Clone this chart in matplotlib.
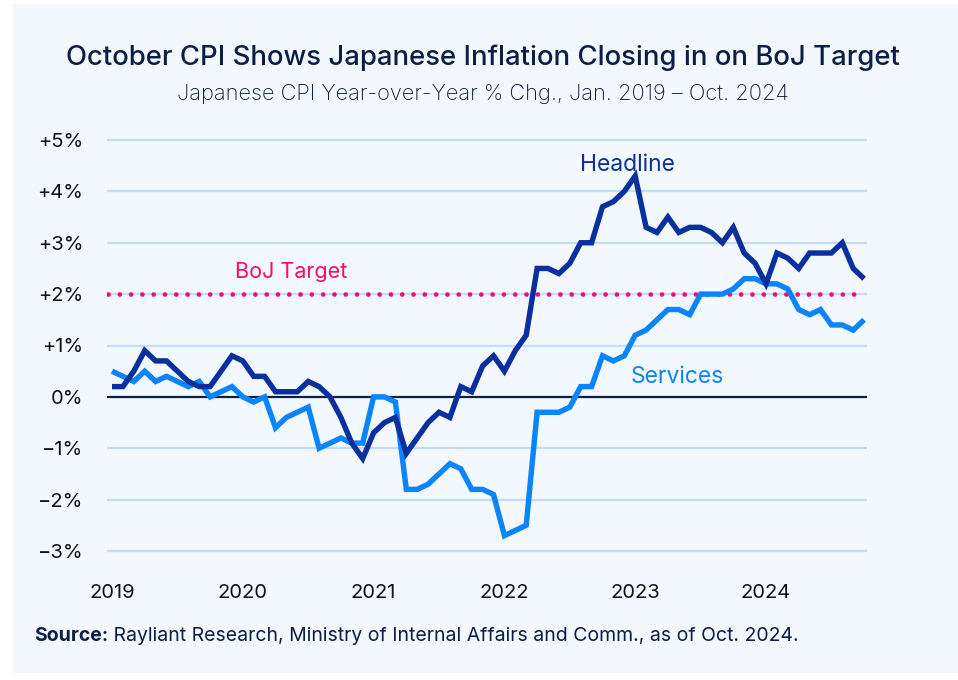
import matplotlib
matplotlib.use("Agg")
import matplotlib.pyplot as plt
from matplotlib.patches import Rectangle

# ---- data ----
years = [2019, 2020, 2021, 2022, 2023, 2024]
headline = [0.2, 0.2, 0.5, 0.9, 0.7, 0.7, 0.5, 0.3, 0.2, 0.2, 0.5, 0.8,
            0.7, 0.4, 0.4, 0.1, 0.1, 0.1, 0.3, 0.2, 0.0, -0.4, -0.9, -1.2,
            -0.7, -0.5, -0.4, -1.1, -0.8, -0.5, -0.3, -0.4, 0.2, 0.1, 0.6, 0.8,
            0.5, 0.9, 1.2, 2.5, 2.5, 2.4, 2.6, 3.0, 3.0, 3.7, 3.8, 4.0,
            4.3, 3.3, 3.2, 3.5, 3.2, 3.3, 3.3, 3.2, 3.0, 3.3, 2.8, 2.6,
            2.2, 2.8, 2.7, 2.5, 2.8, 2.8, 2.8, 3.0, 2.5, 2.3]
services = [0.5, 0.4, 0.3, 0.5, 0.3, 0.4, 0.3, 0.2, 0.3, 0.0, 0.1, 0.2,
            0.0, -0.1, 0.0, -0.6, -0.4, -0.3, -0.2, -1.0, -0.9, -0.8, -0.9, -0.9,
            0.0, 0.0, -0.1, -1.8, -1.8, -1.7, -1.5, -1.3, -1.4, -1.8, -1.8, -1.9,
            -2.7, -2.6, -2.5, -0.3, -0.3, -0.3, -0.2, 0.2, 0.2, 0.8, 0.7, 0.8,
            1.2, 1.3, 1.5, 1.7, 1.7, 1.6, 2.0, 2.0, 2.0, 2.1, 2.3, 2.3,
            2.2, 2.2, 2.1, 1.7, 1.6, 1.7, 1.4, 1.4, 1.3, 1.5]
boj_target = 2.0
y_ticks = [-3, -2, -1, 0, 1, 2, 3, 4, 5]
y_labels = ["\u22123%", "\u22122%", "\u22121%", "0%", "+1%", "+2%", "+3%", "+4%", "+5%"]

title = "October CPI Shows Japanese Inflation Closing in on BoJ Target"
subtitle = "Japanese CPI Year-over-Year % Chg., Jan. 2019 \u2013 Oct. 2024"
source_bold = "Source:"
source_rest = " Rayliant Research, Ministry of Internal Affairs and Comm., as of Oct. 2024."

# ---- style ----
BG = "#F3F8FE"
NAVY = "#0B1F45"
HEAD = "#0A30A0"
SERV = "#0A84FF"
PINK = "#FF0A6C"
GRID = "#C3DCFA"
FONT = ["Inter", "DejaVu Sans"]
plt.rcParams['font.family'] = FONT

W, H = 958, 680
fig = plt.figure(figsize=(W / 100, H / 100), dpi=100)
fig.patch.set_facecolor("white")
fig.add_artist(Rectangle((13 / W, 1 - 673 / H), (W - 13) / W, (673 - 4) / H,
                         transform=fig.transFigure, facecolor=BG,
                         edgecolor="none", zorder=0))

# axes placement (pixel-based)
ylo, yhi = -3.3, 5.3
px_per = 51.4
top_px = 140 - (yhi - 5) * px_per
bot_px = 551 + (-3 - ylo) * px_per
left_px, right_px = 107, 867
ax = fig.add_axes([left_px / W, 1 - bot_px / H, (right_px - left_px) / W,
                   (bot_px - top_px) / H])
ax.set_facecolor("none")
for s in ax.spines.values():
    s.set_visible(False)

n = len(headline)
x = list(range(n))
# month positions: Jan 2019 at px 112, 10.9 px per month
mpx = 10.9
x0 = -(112 - left_px) / mpx
x1 = x0 + (right_px - left_px) / mpx
ax.set_xlim(x0, x1)
ax.set_ylim(ylo, yhi)

for t in y_ticks:
    if t != 0:
        ax.axhline(t, color=GRID, lw=1.6, zorder=1)
ax.axhline(0, color=NAVY, lw=1.6, zorder=2)

ax.plot(x, services, color=SERV, lw=3.9, solid_joinstyle="miter",
        solid_capstyle="butt", zorder=4)
ax.plot(x, headline, color=HEAD, lw=3.9, solid_joinstyle="miter",
        solid_capstyle="butt", zorder=5)

# BoJ target dotted line
lw_dot = 3.4
ax.plot([x0 + 0.05, x1 - 1.2], [boj_target, boj_target], color=PINK, lw=lw_dot,
        linestyle=(0, (0.01, 8.1 / lw_dot)), dash_capstyle="round", zorder=3)

ax.set_yticks(y_ticks)
ax.set_yticklabels(y_labels)
ax.set_xticks([12 * i for i in range(len(years))])
ax.set_xticklabels([str(y) for y in years])
ax.tick_params(axis="both", length=0, labelsize=14.5, labelcolor="#111111")
ax.tick_params(axis="y", pad=17)
ax.tick_params(axis="x", pad=13)

ax.text(47.3, 4.52, "Headline", color=HEAD, fontsize=16.5, ha="center", va="center")
ax.text(16.4, 2.43, "BoJ Target", color=PINK, fontsize=15.5, ha="center", va="center")
ax.text(51.9, 0.38, "Services", color=SERV, fontsize=16.5, ha="center", va="center")

fig.text(483 / W, 1 - 58 / H, title, ha="center", va="center", fontsize=19.8,
         color=NAVY, fontweight="medium")
fig.text(483 / W, 1 - 94 / H, subtitle, ha="center", va="center", fontsize=15.7,
         color=NAVY, fontweight="light")

t1 = fig.text(34 / W, 1 - 636 / H, source_bold, ha="left", va="center",
              fontsize=14, color=NAVY, fontweight="bold")
fig.canvas.draw()
bb = t1.get_window_extent()
fig.text(bb.x1 / W, 1 - 636 / H, source_rest, ha="left", va="center",
         fontsize=14, color=NAVY)

fig.savefig("out.png", dpi=100, facecolor="white")
